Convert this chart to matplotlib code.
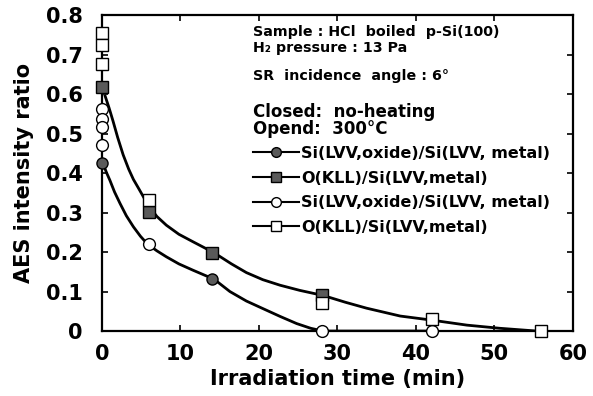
import matplotlib
matplotlib.use("Agg")
import matplotlib.pyplot as plt
from matplotlib.lines import Line2D

plt.rcParams['font.family'] = 'DejaVu Sans'
plt.rcParams['font.weight'] = 'bold'

# measured points (irradiation time in min, AES intensity ratio)
closed_circle_x = [0, 14]
closed_circle_y = [0.425, 0.131]
closed_square_x = [0, 6, 14, 28]
closed_square_y = [0.617, 0.302, 0.198, 0.091]
open_circle_x = [0, 0, 0, 0, 6, 28, 42]
open_circle_y = [0.561, 0.538, 0.516, 0.471, 0.22, 0.0, 0.0]
open_square_x = [0, 0, 0, 6, 28, 42, 56]
open_square_y = [0.755, 0.724, 0.676, 0.333, 0.072, 0.03, 0.0]

# hand drawn guide curves
upper_curve_x = [0.4, 0.9, 1.4, 2.0, 2.7, 3.4, 4.0, 4.7, 5.3, 5.9, 7.0, 8.2, 9.8,
                 11.6, 14.3, 16.5, 18.4, 20.5, 22.7, 25.2, 28.2, 31.0, 33.7,
                 38.0, 41.9, 46.5, 50.7, 55.4]
upper_curve_y = [0.595, 0.565, 0.532, 0.490, 0.446, 0.410, 0.384, 0.360, 0.339,
                 0.318, 0.290, 0.268, 0.245, 0.226, 0.198, 0.170, 0.148, 0.130,
                 0.116, 0.103, 0.090, 0.073, 0.058, 0.038, 0.028, 0.015, 0.007, 0.0]
lower_curve_x = [0.2, 0.6, 1.0, 1.6, 2.3, 3.1, 4.0, 4.9, 5.8, 7.0, 8.2, 9.8, 11.6,
                 14.3, 16.3, 18.4, 20.6, 22.7, 24.8, 26.6, 28.2, 42.0]
lower_curve_y = [0.42, 0.40, 0.382, 0.352, 0.323, 0.292, 0.264, 0.240, 0.220,
                 0.203, 0.188, 0.170, 0.154, 0.131, 0.100, 0.076, 0.056, 0.037,
                 0.019, 0.007, 0.0, 0.0]

legend_labels = ["Si(LVV,oxide)/Si(LVV, metal)", "O(KLL)/Si(LVV,metal)",
                 "Si(LVV,oxide)/Si(LVV, metal)", "O(KLL)/Si(LVV,metal)"]

fig = plt.figure(figsize=(5.93, 3.96), dpi=100)
ax = fig.add_axes([0.172, 0.164, 0.794, 0.798])

ax.plot(upper_curve_x, upper_curve_y, color='black', lw=2.0, zorder=2)
ax.plot(lower_curve_x, lower_curve_y, color='black', lw=2.0, zorder=2)

fill = '#5a5a5a'
ax.plot(closed_circle_x, closed_circle_y, 'o', ms=8, mfc=fill, mec='black',
        mew=1.0, clip_on=False, zorder=4)
ax.plot(closed_square_x, closed_square_y, 's', ms=9, mfc=fill, mec='black',
        mew=1.0, clip_on=False, zorder=4)
ax.plot(open_circle_x, open_circle_y, 'o', ms=8.5, mfc='white', mec='black',
        mew=1.0, clip_on=False, zorder=5)
ax.plot(open_square_x, open_square_y, 's', ms=9, mfc='white', mec='black',
        mew=1.0, clip_on=False, zorder=5)

ax.set_xlim(0, 60)
ax.set_ylim(0, 0.8)
ax.set_xticks([0, 10, 20, 30, 40, 50, 60])
ax.set_yticks([0, 0.1, 0.2, 0.3, 0.4, 0.5, 0.6, 0.7, 0.8])
ax.set_yticklabels(['0', '0.1', '0.2', '0.3', '0.4', '0.5', '0.6', '0.7', '0.8'])
ax.tick_params(direction='in', top=True, right=True, length=4, width=1.2,
               labelsize=15)
ax.tick_params(axis='y', pad=14)
ax.tick_params(axis='x', pad=9)
for s in ax.spines.values():
    s.set_linewidth(1.6)

ax.set_xlabel("Irradiation time (min)", fontsize=15, fontweight='bold', labelpad=4)
ax.set_ylabel("AES intensity ratio", fontsize=15, fontweight='bold', labelpad=8)

# condition notes
W, H = 593.0, 396.0
def note(x, y, s, size):
    fig.text(x / W, 1 - y / H, s, fontsize=size, fontweight='bold',
             va='baseline', ha='left')

note(253, 36, "Sample : HCl  boiled  p-Si(100)", 10.3)
note(253, 52, "H\u2082 pressure : 13 Pa", 10.3)
note(253, 80, "SR  incidence  angle : 6°", 10.3)
note(253, 117, "Closed:  no-heating", 12)
note(253, 134, "Opend:  300°C", 12)

handles = [
    Line2D([], [], color='black', lw=1.5, marker='o', ms=7, mfc=fill, mec='black'),
    Line2D([], [], color='black', lw=1.5, marker='s', ms=7.5, mfc=fill, mec='black'),
    Line2D([], [], color='black', lw=1.5, marker='o', ms=7, mfc='white', mec='black'),
    Line2D([], [], color='black', lw=1.5, marker='s', ms=7.5, mfc='white', mec='black'),
]
ax.legend(handles, legend_labels, loc='upper left',
          bbox_to_anchor=(253 / W, 1 - 146 / H), bbox_transform=fig.transFigure,
          frameon=False, borderpad=0, borderaxespad=0, handlelength=2.9,
          handletextpad=0.1, labelspacing=0.6,
          prop={'size': 11.5, 'weight': 'bold'})

fig.savefig("out.png", dpi=100)
